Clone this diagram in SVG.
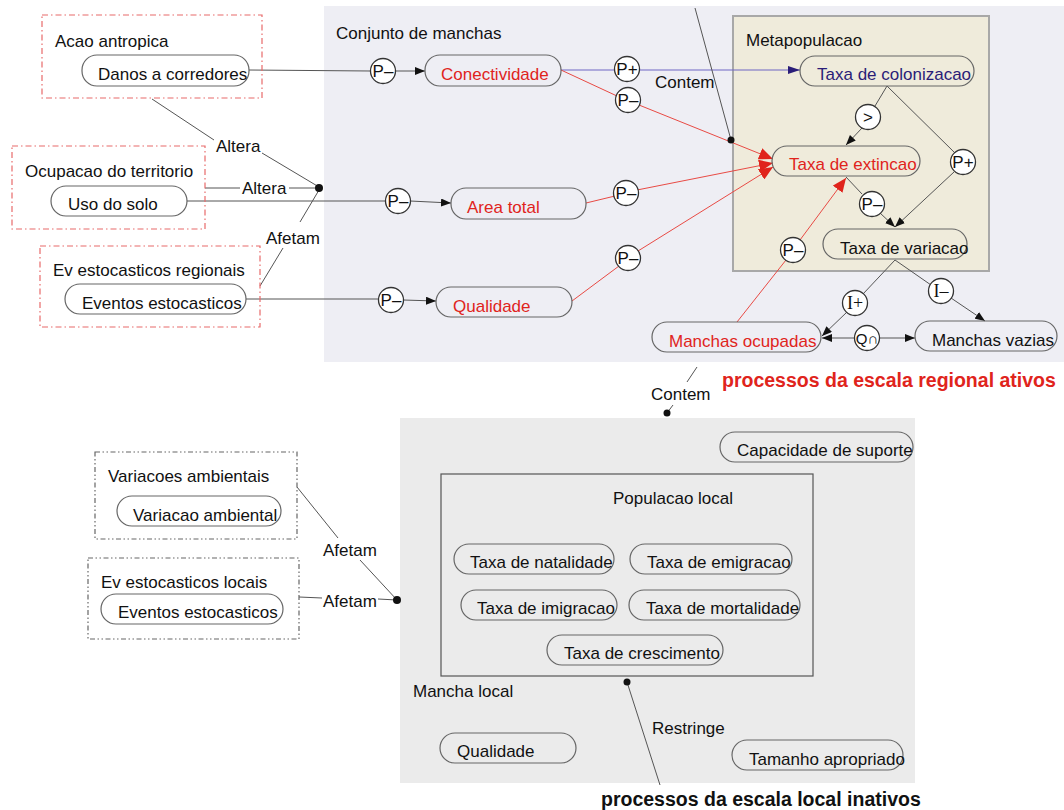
<svg xmlns="http://www.w3.org/2000/svg" width="1064" height="810" viewBox="0 0 1064 810">
<defs>
<style>
text{font-family:"Liberation Sans",Arial,sans-serif;font-size:17px;fill:#111}
.red{fill:#e0241c}
.navy{fill:#2a1d78}
.node{fill:none;stroke:#666;stroke-width:1.2}
.ln{fill:none;stroke:#555;stroke-width:1}
.rl{fill:none;stroke:#e84a44;stroke-width:1}
.bl{fill:none;stroke:#6f66c4;stroke-width:1.2}
.circ{fill:#fff;stroke:#333;stroke-width:1.3}
.ct{font-size:17px;text-anchor:middle}
.sf{font-family:"Liberation Serif","Times New Roman",serif;font-size:18px}
.rbox{fill:none;stroke:#e86a6a;stroke-width:1.2;stroke-dasharray:6 3 1.5 3}
.gbox{fill:none;stroke:#666;stroke-width:1.2;stroke-dasharray:5 2.5 1.5 2.5 1.5 2.5}
</style>
<marker id="ah" viewBox="0 0 10 8" refX="10" refY="4" markerWidth="10" markerHeight="8" markerUnits="userSpaceOnUse" orient="auto"><path d="M0,0 L10,4 L0,8 Z" fill="#111"/></marker>
<marker id="ahr" viewBox="0 0 14 12" refX="14" refY="6" markerWidth="14" markerHeight="12" markerUnits="userSpaceOnUse" orient="auto"><path d="M0,0 L14,6 L0,12 Z" fill="#e0241c"/></marker>
<marker id="ahb" viewBox="0 0 12 8" refX="12" refY="4" markerWidth="12" markerHeight="8" markerUnits="userSpaceOnUse" orient="auto"><path d="M0,0 L12,4 L0,8 Z" fill="#2a1d78"/></marker>
</defs>
<rect width="1064" height="810" fill="#fff"/>

<g id="regional-area">
<rect x="324" y="6" width="740" height="356" fill="#eeeef4"/>
<text x="336" y="39">Conjunto de manchas</text>
</g>
<g id="metapopulacao">
<rect x="733" y="16" width="256" height="255" fill="#efebdb" stroke="#a8a8a8" stroke-width="2"/>
<text x="746" y="46">Metapopulacao</text>
</g>
<g id="local-area">
<rect x="400" y="418" width="515" height="365" fill="#ebebeb"/>
<text x="413" y="697">Mancha local</text>
</g>
<g id="populacao-local">
<rect x="441" y="474" width="372" height="202" fill="none" stroke="#555" stroke-width="1.2"/>
<text x="613" y="504">Populacao local</text>
</g>

<g id="connectors">
<path class="ln" d="M152,99 L214,140"/>
<path class="ln" d="M262,153 L319,187"/>
<path class="ln" d="M205,188 L240,188"/>
<path class="ln" d="M289,188 L319,188"/>
<path class="ln" d="M260,286 L283,248"/>
<path class="ln" d="M300,222 L319,190"/>
<circle cx="319" cy="188" r="4" fill="#111"/>
<text x="216" y="152">Altera</text>
<text x="242" y="194">Altera</text>
<text x="266" y="244">Afetam</text>

<path class="ln" d="M249,70 L371,71"/>
<path class="ln" marker-end="url(#ah)" d="M395,71 L425,71"/>
<path class="ln" d="M187,201 L386,201"/>
<path class="ln" marker-end="url(#ah)" d="M410,201 L451,203"/>
<path class="ln" d="M246,299 L379,299"/>
<path class="ln" marker-end="url(#ah)" d="M403,300 L436,301"/>

<path class="bl" marker-end="url(#ahb)" d="M561,70 L800,70"/>
<path class="rl" d="M561,70 L617,96"/>
<path class="rl" marker-end="url(#ahr)" d="M639,105 L773,159"/>
<path class="rl" d="M586,203 L615,196"/>
<path class="rl" marker-end="url(#ahr)" d="M637,190 L773,163"/>
<path class="rl" d="M572,301 L619,266"/>
<path class="rl" marker-end="url(#ahr)" d="M638,251 L773,167"/>

<path class="ln" d="M695,8 L731,140"/>
<circle cx="731" cy="140" r="3.5" fill="#111"/>
<text x="655" y="88">Contem</text>

<path class="ln" d="M887,86 L875,106"/>
<path class="ln" marker-end="url(#ah)" d="M862,128 L846,145"/>
<path class="ln" d="M887,86 L955,153"/>
<path class="ln" marker-end="url(#ah)" d="M954,172 L895,227"/>
<path class="ln" d="M846,177 L862,194"/>
<path class="ln" marker-end="url(#ah)" d="M880,213 L895,227"/>
<path class="rl" d="M737,322 L786,260"/>
<path class="rl" marker-end="url(#ahr)" d="M800,240 L846,178"/>

<path class="ln" d="M895,260 L863,294"/>
<path class="ln" marker-end="url(#ah)" d="M847,312 L822,336"/>
<path class="ln" d="M895,260 L931,285"/>
<path class="ln" marker-end="url(#ah)" d="M951,298 L985,321"/>
<path class="ln" marker-end="url(#ah)" d="M855,338 L822,338"/>
<path class="ln" marker-end="url(#ah)" d="M879,338 L915,338"/>

<path class="ln" d="M697,367 L687,382"/>
<path class="ln" d="M673,405 L667,413"/>
<circle cx="667" cy="413" r="3.5" fill="#111"/>
<text x="651" y="400">Contem</text>

<path class="ln" d="M297,487 L338,538"/>
<path class="ln" d="M360,560 L397,600"/>
<path class="ln" d="M299,597 L322,598"/>
<path class="ln" d="M378,599 L397,600"/>
<circle cx="397" cy="600" r="4" fill="#111"/>
<text x="323" y="556">Afetam</text>
<text x="323" y="607">Afetam</text>

<path class="ln" d="M627,682 L660,785"/>
<circle cx="627" cy="682" r="3.5" fill="#111"/>
<text x="652" y="734">Restringe</text>

<circle class="circ" cx="383" cy="71" r="12.5"/><text class="ct" x="383" y="77">P–</text>
<circle class="circ" cx="398" cy="201" r="12.5"/><text class="ct" x="398" y="207">P–</text>
<circle class="circ" cx="391" cy="300" r="12.5"/><text class="ct" x="391" y="306">P–</text>
<circle class="circ" cx="627" cy="69" r="12.5"/><text class="ct" x="627" y="75">P+</text>
<circle class="circ" cx="628" cy="100" r="12.5"/><text class="ct" x="628" y="106">P–</text>
<circle class="circ" cx="626" cy="193" r="12.5"/><text class="ct" x="626" y="199">P–</text>
<circle class="circ" cx="628" cy="258" r="12.5"/><text class="ct" x="628" y="264">P–</text>
<circle class="circ" cx="868" cy="117" r="12.5"/><text class="ct" x="868" y="123">&gt;</text>
<circle class="circ" cx="963" cy="162" r="12.5"/><text class="ct" x="963" y="168">P+</text>
<circle class="circ" cx="872" cy="204" r="12.5"/><text class="ct" x="872" y="210">P–</text>
<circle class="circ" cx="793" cy="250" r="12.5"/><text class="ct" x="793" y="256">P–</text>
<circle class="circ" cx="855" cy="303" r="12.5"/><text class="ct sf" x="855" y="309">I+</text>
<circle class="circ" cx="941" cy="291" r="12.5"/><text class="ct sf" x="941" y="297">I–</text>
<circle class="circ" cx="867" cy="338" r="12.5"/><text class="ct" x="867" y="344" style="font-size:15px">Q∩</text>
</g>

<g id="acao-antropica">
<rect class="rbox" x="42" y="15" width="220" height="83"/>
<text x="55" y="47">Acao antropica</text>
</g>
<g id="danos-a-corredores">
<rect class="node" x="82" y="55" width="167" height="31" rx="15"/>
<text x="98" y="80">Danos a corredores</text>
</g>
<g id="ocupacao-territorio">
<rect class="rbox" x="12" y="146" width="193" height="83"/>
<text x="25" y="177">Ocupacao do territorio</text>
</g>
<g id="uso-do-solo">
<rect class="node" x="51" y="186" width="136" height="30" rx="15"/>
<text x="68" y="210">Uso do solo</text>
</g>
<g id="ev-estocasticos-regionais">
<rect class="rbox" x="40" y="246" width="220" height="81"/>
<text x="53" y="276">Ev estocasticos regionais</text>
</g>
<g id="eventos-estocasticos-regionais">
<rect class="node" x="65" y="284" width="181" height="30" rx="15"/>
<text x="82" y="309">Eventos estocasticos</text>
</g>

<g id="conectividade">
<rect class="node" x="425" y="55" width="136" height="31" rx="15"/>
<text class="red" x="441" y="80">Conectividade</text>
</g>
<g id="area-total">
<rect class="node" x="451" y="188" width="135" height="31" rx="15"/>
<text class="red" x="467" y="213">Area total</text>
</g>
<g id="qualidade-regional">
<rect class="node" x="436" y="287" width="136" height="30" rx="15"/>
<text class="red" x="453" y="312">Qualidade</text>
</g>

<g id="taxa-de-colonizacao">
<rect class="node" x="800" y="56" width="174" height="30" rx="15"/>
<text class="navy" x="817" y="80">Taxa de colonizacao</text>
</g>
<g id="taxa-de-extincao">
<rect class="node" x="772" y="146" width="148" height="30" rx="15"/>
<text class="red" x="789" y="170">Taxa de extincao</text>
</g>
<g id="taxa-de-variacao">
<rect class="node" x="823" y="229" width="144" height="30" rx="15"/>
<text x="840" y="254">Taxa de variacao</text>
</g>
<g id="manchas-ocupadas">
<rect class="node" x="652" y="322" width="169" height="30" rx="15"/>
<text class="red" x="669" y="347">Manchas ocupadas</text>
</g>
<g id="manchas-vazias">
<rect class="node" x="915" y="321" width="142" height="30" rx="15"/>
<text x="932" y="346">Manchas vazias</text>
</g>
<g id="label-regional">
<text x="722" y="387" style="font-weight:bold;font-size:19.5px;fill:#e0241c">processos da escala regional ativos</text>
</g>

<g id="variacoes-ambientais">
<rect class="gbox" x="95" y="452" width="202" height="87"/>
<text x="108" y="482">Variacoes ambientais</text>
</g>
<g id="variacao-ambiental">
<rect class="node" x="117" y="496" width="164" height="30" rx="15"/>
<text x="133" y="521">Variacao ambiental</text>
</g>
<g id="ev-estocasticos-locais">
<rect class="gbox" x="88" y="558" width="211" height="81"/>
<text x="101" y="588">Ev estocasticos locais</text>
</g>
<g id="eventos-estocasticos-locais">
<rect class="node" x="101" y="594" width="182" height="30" rx="15"/>
<text x="118" y="618">Eventos estocasticos</text>
</g>

<g id="capacidade-de-suporte">
<rect class="node" x="720" y="432" width="193" height="30" rx="15"/>
<text x="737" y="456">Capacidade de suporte</text>
</g>
<g id="taxa-de-natalidade">
<rect class="node" x="454" y="544" width="160" height="30" rx="15"/>
<text x="470" y="568">Taxa de natalidade</text>
</g>
<g id="taxa-de-emigracao">
<rect class="node" x="630" y="544" width="162" height="30" rx="15"/>
<text x="647" y="568">Taxa de emigracao</text>
</g>
<g id="taxa-de-imigracao">
<rect class="node" x="461" y="590" width="156" height="30" rx="15"/>
<text x="477" y="614">Taxa de imigracao</text>
</g>
<g id="taxa-de-mortalidade">
<rect class="node" x="629" y="590" width="171" height="30" rx="15"/>
<text x="646" y="614">Taxa de mortalidade</text>
</g>
<g id="taxa-de-crescimento">
<rect class="node" x="547" y="635" width="176" height="30" rx="15"/>
<text x="564" y="659">Taxa de crescimento</text>
</g>
<g id="qualidade-local">
<rect class="node" x="440" y="733" width="136" height="30" rx="15"/>
<text x="457" y="757">Qualidade</text>
</g>
<g id="tamanho-apropriado">
<rect class="node" x="732" y="740" width="171" height="30" rx="15"/>
<text x="749" y="765">Tamanho apropriado</text>
</g>
<g id="label-local">
<text x="601" y="806" style="font-weight:bold;font-size:19.5px">processos da escala local inativos</text>
</g>
</svg>
